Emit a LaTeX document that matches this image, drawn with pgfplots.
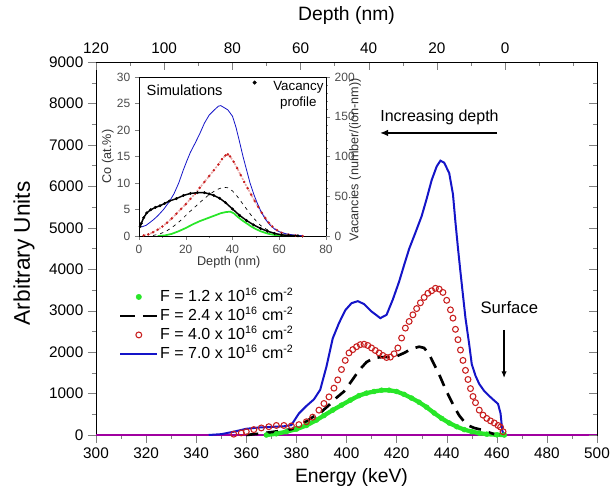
\documentclass[border=0pt]{standalone}
\usepackage{pgfplots}
\pgfplotsset{compat=1.18}
\usepackage{fontspec}
\setmainfont{Liberation Sans}
\usetikzlibrary{arrows.meta}
\definecolor{cgreen}{RGB}{40,230,40}
\definecolor{cred}{RGB}{200,30,30}
\definecolor{cblue}{RGB}{20,20,200}
\definecolor{cpurple}{RGB}{160,0,160}
\pgfplotsset{/pgf/number format/assume math mode=true, /pgf/number format/1000 sep={}}
\begin{document}
\begin{tikzpicture}
\useasboundingbox (-72pt,-42.75pt) rectangle (386.25pt,326.25pt);
% ---------------- main axis ----------------
\begin{axis}[
  at={(0,0)}, anchor=south west,
  scale only axis, width=375.75pt, height=279.75pt,
  xmin=300, xmax=500, ymin=0, ymax=9000, clip=false,
  xtick={300,320,...,500}, minor x tick num=1,
  ytick={0,1000,...,9000}, minor y tick num=1,
  xtick pos=bottom, ytick pos=left, tick align=outside,
  major tick length=6pt, minor tick length=3pt,
  scaled y ticks=false,
  tick label style={font=\fontsize{11.5}{13}\selectfont},
  xlabel={Energy (keV)}, ylabel={Arbitrary Units},
  xlabel style={font=\fontsize{14.5}{16}\selectfont, at={(axis description cs:0.51,-0.115)}, anchor=center},
  ylabel style={font=\fontsize{17}{19}\selectfont, at={(axis description cs:-0.1437,0.487)}, anchor=center},
  legend style={draw=none, fill=none, inner sep=0pt, at={(axis description cs:0.045,0.395)}, anchor=north west,
    font=\fontsize{12}{14}\selectfont, row sep=0.75pt,
    nodes={text height=9pt, text depth=2.5pt, inner sep=1pt}, cells={anchor=west}},
]
\addplot[cpurple, line width=1.6pt, forget plot] coordinates {(300,0) (500,0)};
% F = 1.2
\addplot[cgreen, line width=3.2pt, mark=*, mark size=1.9pt, mark options={fill=cgreen, draw=cgreen, solid, line width=0.3pt}, forget plot] coordinates {
(368,0) (372,30) (376,80) (380,140) (384,230) (388,360) (391,470) (394.5,600) (398,720) (401.5,840)
(405,950) (408,1010) (411,1050) (414,1080) (417,1080) (420,1050) (423,980) (426,890) (429,790) (432,670)
(435,530) (438,400) (441,290) (444,200) (447,130) (450,80) (453,45) (456,20) (460,5) (463,0)};
% F = 2.4
\addplot[black, line width=2pt, dash pattern=on 9pt off 6pt, forget plot] coordinates {
(360,0) (365,30) (370,70) (375,110) (378,140) (381,200) (384,330) (387,450) (390,560) (393,720)
(396,900) (399,1050) (402,1300) (405,1560) (408,1760) (411,1860) (414,1880) (417,1880) (420,1900) (423,1980)
(426,2080) (429,2130) (431,2100) (433,1950) (435,1700) (437,1460) (439,1180) (441,920) (443,680) (445,470)
(447,320) (449,220) (451,170) (453,140) (455,110) (457,60) (459,20) (461,0)};
% F = 4.0
\addplot[cred, only marks, mark=o, mark size=2.2pt, mark options={line width=0.8pt}, forget plot] coordinates {
(355,20) (358,50) (360,80) (363,130) (366,170) (369,200) (372,230) (375,230) (378,220) (381,250)
(384,320) (386.5,430) (389,600) (391,760) (393,920) (395,1130) (396.5,1330) (398,1580) (399.5,1800) (401,1980)
(402.5,2060) (404,2130) (405.5,2180) (407,2190) (408.5,2160) (410,2100) (411.5,2040) (413,1980) (414.5,1920) (416,1870)
(417.5,1880) (419,1960) (420.5,2100) (422,2340) (423.5,2580) (425,2740) (426.5,2900) (428,3050) (429.5,3190) (431,3320)
(432.5,3420) (434,3480) (435.5,3540) (437,3520) (438.5,3440) (440,3250) (441.5,3020) (442.5,2820) (443.5,2550) (444.5,2300)
(445.5,2050) (446.5,1800) (447.5,1560) (448.5,1340) (449.5,1120) (450.5,930) (451.5,780) (453,600) (454.5,480) (456,400)
(457.5,340) (459,290) (460.5,230) (461.5,190) (462.5,80)};
% F = 7.0
\addplot[cblue, line width=1.5pt, forget plot] coordinates {
(345,0) (350,20) (355,80) (360,150) (365,180) (370,195) (375,210) (378,240) (381,520) (384,700)
(387,860) (389.5,1090) (392,1650) (394.5,2330) (397,2700) (399.5,3010) (402,3180) (404.5,3230) (407,3160) (410,2980)
(413.5,2820) (416,2900) (418.5,3270) (421,3700) (423,4100) (425,4490) (427.5,4880) (430,5280) (432,5700) (434,6150)
(436,6480) (437.5,6620) (439,6570) (441,6320) (442.5,5810) (443.5,5130) (444.5,4510) (445.5,3930) (446.5,3370) (447.5,2820)
(449,2180) (450,1710) (451.5,1430) (453,1230) (455,1060) (457,940) (459,830) (460.5,750) (461.5,520) (462.2,100) (463,0)};
% legend
\addlegendimage{legend image code/.code={\fill[cgreen] (14pt,0pt) circle (2pt);}}
\addlegendentry{F = 1.2 x 10\textsuperscript{16} cm\textsuperscript{-2}}
\addlegendimage{legend image code/.code={\draw[black, line width=2pt] (0pt,0pt) -- (11pt,0pt) (17pt,0pt) -- (28pt,0pt);}}
\addlegendentry{F = 2.4 x 10\textsuperscript{16} cm\textsuperscript{-2}}
\addlegendimage{legend image code/.code={\draw[cred, line width=0.8pt] (14pt,0pt) circle (2.2pt);}}
\addlegendentry{F = 4.0 x 10\textsuperscript{16} cm\textsuperscript{-2}}
\addlegendimage{legend image code/.code={\draw[cblue, line width=1.5pt] (0pt,0pt) -- (28pt,0pt);}}
\addlegendentry{F = 7.0 x 10\textsuperscript{16} cm\textsuperscript{-2}}
% annotations
\node[anchor=west, font=\fontsize{12}{14}\selectfont, inner sep=0pt] at (axis cs:413.4,7674) {Increasing depth};
\draw[line width=1.1pt, -{Latex[length=6pt,width=5pt]}] (axis cs:460.1,7288) -- (axis cs:413.4,7288);
\node[font=\fontsize{12.5}{14}\selectfont, inner sep=0pt] at (axis cs:465,3065) {Surface};
\draw[line width=0.9pt, -{Latex[length=5pt,width=4pt]}] (axis cs:462.9,2534) -- (axis cs:462.9,1375);
\end{axis}
% ---------------- top / right axis ----------------
\begin{axis}[
  at={(0,0)}, anchor=south west,
  scale only axis, width=375.75pt, height=279.75pt,
  xmin=-26.96, xmax=120, x dir=reverse, ymin=0, ymax=9000,
  axis x line*=top, axis y line*=right,
  xtick={0,20,...,120}, minor xtick={-20,-10,10,30,50,70,90,110},
  ytick={0,1000,...,9000}, minor y tick num=1, yticklabels={},
  tick align=inside, major tick length=6pt, minor tick length=3pt,
  tick label style={font=\fontsize{11.5}{13}\selectfont},
  xticklabel style={yshift=3pt},
  xlabel={Depth (nm)},
  xlabel style={font=\fontsize{14.5}{16}\selectfont, at={(axis description cs:0.5,1.126)}, anchor=center},
]
\end{axis}
% ---------------- inset (left axis) ----------------
\begin{axis}[
  at={(32.25pt,149.25pt)}, anchor=south west,
  scale only axis, width=140.25pt, height=119.25pt,
  xmin=0, xmax=80, ymin=0, ymax=30,
  axis background/.style={fill=white},
  xtick={0,20,...,80}, minor x tick num=1, ytick={0,5,...,30},
  xtick pos=bottom, ytick pos=left, tick align=outside,
  major tick length=3pt, minor tick length=1.5pt,
  tick label style={font=\fontsize{9}{10}\selectfont, text=black!70},
  xlabel={Depth (nm)}, ylabel={Co (at.\%)},
  label style={font=\fontsize{9.5}{11}\selectfont, text=black!80},
  xlabel style={at={(axis description cs:0.48,-0.165)}, anchor=center},
  ylabel style={at={(axis description cs:-0.166,0.5)}, anchor=center},
]
\addplot[cgreen, line width=1.3pt] coordinates {
(8,0) (11,0.1) (14,0.4) (17,0.9) (20,1.5) (23,2.2) (26,2.8) (29,3.3) (32,3.8) (35,4.3) (37,4.5) (39,4.6)
(40.5,4.3) (42,3.7) (44,3.0) (46,2.4) (48,1.8) (50,1.3) (52,0.9) (54,0.6) (56,0.35) (58,0.2) (61,0.05) (64,0)};
\addplot[black, line width=0.5pt, dash pattern=on 2.5pt off 3pt] coordinates {
(6,0.1) (9,0.4) (12,1.0) (15,1.9) (18,3.0) (21,4.3) (24,5.5) (27,6.7) (30,7.8) (33,8.7) (36,9.2) (38,9.1)
(40,8.5) (42,7.5) (44,6.3) (46,5.1) (48,3.9) (50,2.9) (52,2.0) (54,1.4) (56,0.9) (58,0.5) (61,0.2) (64,0)};
\addplot[cred!40, line width=1.2pt, dash pattern=on 1.5pt off 1pt] coordinates {
(2,0.1) (4,0.3) (6,0.7) (8,1.2) (10,1.8) (12,2.5) (14,3.3) (16,4.2) (18,5.1) (20,6.0) (22,7.0) (24,8.0)
(26,9.1) (28,10.2) (30,11.3) (32,12.4) (34,13.5) (35.5,14.5) (37,15.2) (38,15.4) (39,15) (40.5,14) (42,12.8)
(43.5,11.5) (45,10.2) (46.5,9) (48,7.8) (49.5,6.6) (51,5.5) (52.5,4.4) (54,3.4) (55.5,2.5) (57,1.8) (59,1.1)
(61,0.6) (64,0.25) (67,0.1) (70,0)};
\addplot[cred, only marks, mark=*, mark size=0.7pt] coordinates {
(2,0.1) (4,0.3) (6,0.7) (8,1.2) (10,1.8) (12,2.5) (14,3.3) (16,4.2) (18,5.1) (20,6.0) (22,7.0) (24,8.0)
(26,9.1) (28,10.2) (30,11.3) (32,12.4) (34,13.5) (35.5,14.5) (37,15.2) (38,15.4) (39,15) (40.5,14) (42,12.8)
(43.5,11.5) (45,10.2) (46.5,9) (48,7.8) (49.5,6.6) (51,5.5) (52.5,4.4) (54,3.4) (55.5,2.5) (57,1.8) (59,1.1)
(61,0.6) (64,0.25) (67,0.1) (70,0)};
\addplot[cblue, line width=0.6pt] coordinates {
(1,1.7) (3,2.0) (6,3.0) (8,3.8) (10.5,5.0) (13,6.5) (15,8.0) (17,10.0) (19,12.5) (20.5,14.2) (22,15.8)
(24,17.5) (26,19.3) (28,21.3) (30,22.8) (32,23.7) (34,24.5) (35,24.6) (36.5,24.2) (38,23.8) (40,22.6)
(41.5,20.5) (43,17.8) (44.5,15) (46,12.5) (47.5,10) (49,8) (50.5,6.3) (52,4.8) (54,3.2) (56,2.1) (58,1.3)
(60,0.8) (63,0.4) (66,0.2) (70,0.05)};
\node[anchor=west, font=\fontsize{11}{13}\selectfont, inner sep=0pt] at (axis description cs:0.04,0.915) {Simulations};
\end{axis}
% ---------------- inset (right axis) ----------------
\begin{axis}[
  at={(32.25pt,149.25pt)}, anchor=south west,
  scale only axis, width=140.25pt, height=119.25pt,
  xmin=0, xmax=80, ymin=0, ymax=200,
  axis x line=none, axis y line*=right,
  ytick={0,50,...,200}, minor y tick num=4,
  tick align=outside, major tick length=3pt, minor tick length=1.5pt,
  tick label style={font=\fontsize{9}{10}\selectfont, text=black!70},
  ylabel={Vacancies (number/(ion-nm))},
  ylabel style={font=\fontsize{9.5}{11}\selectfont, text=black!80, at={(axis description cs:1.155,0.48)}, anchor=center},
  legend style={draw=none, fill=none, inner sep=0pt, at={(axis description cs:0.995,0.99)}, anchor=north east,
    font=\fontsize{10}{11.5}\selectfont, nodes={inner sep=1pt}},
  legend image code/.code={\path[draw=none] (0pt,0pt) -- (14pt,0pt); \fill[black] (1pt,3pt) circle (1.3pt);},
]
\addplot[black, only marks, mark=*, mark size=0.9pt] coordinates {
(0.5,12) (1,16) (2,23) (3.3,29) (5,33) (7,36) (9,38) (11,41) (13,44) (16,47) (19,51) (22,53.5) (25,54.5)
(28,54.5) (30,53) (32,51) (34.5,47.5) (37,42) (40,34) (43,26) (46,19.5) (49,14) (52,9.5) (55,6) (58,3.2)
(61,1.5) (64,0.6) (68,0.2)};
\addplot[black, line width=1.1pt, forget plot] coordinates {
(0.5,12) (1,16) (2,23) (3.3,29) (5,33) (7,36) (9,38) (11,41) (13,44) (16,47) (19,51) (22,53.5) (25,54.5)
(28,54.5) (30,53) (32,51) (34.5,47.5) (37,42) (40,34) (43,26) (46,19.5) (49,14) (52,9.5) (55,6) (58,3.2)
(61,1.5) (64,0.6) (68,0.2)};
\addlegendentry{\begin{tabular}[t]{@{}c@{}}Vacancy\\profile\end{tabular}}
\end{axis}
\end{tikzpicture}
\end{document}
